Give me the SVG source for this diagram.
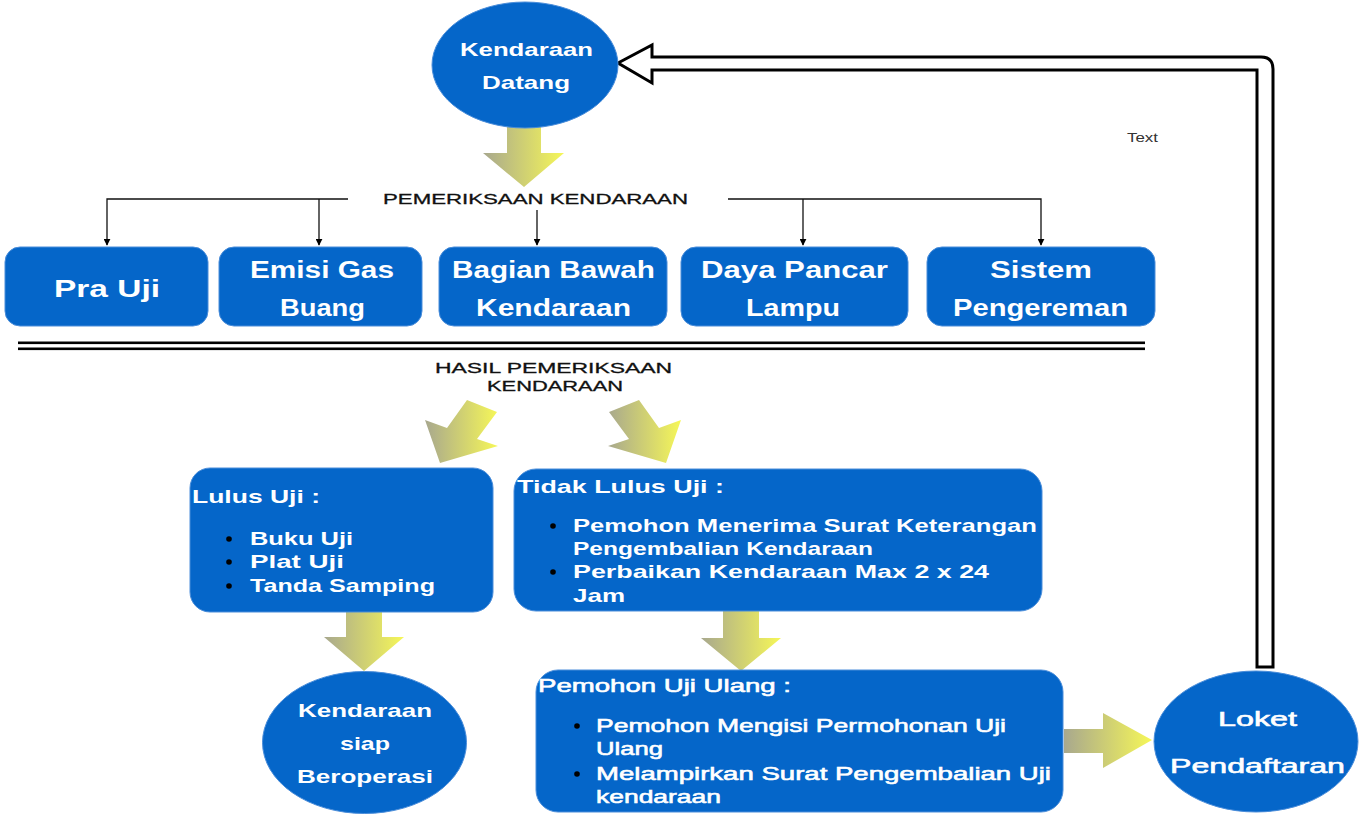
<svg xmlns="http://www.w3.org/2000/svg" width="1360" height="827" viewBox="0 0 1360 827">
<defs>
<linearGradient id="yg" x1="0" y1="0" x2="1" y2="0">
<stop offset="0" stop-color="#A8A88E"/>
<stop offset="1" stop-color="#F6F758"/>
</linearGradient>
<marker id="ah" viewBox="0 0 10 10" refX="9" refY="5" markerWidth="7" markerHeight="7" orient="auto" markerUnits="userSpaceOnUse">
<path d="M0,0 L10,5 L0,10 Z" fill="#000"/>
</marker>
<style>
.blue{fill:#0566C9;stroke:#4A8DDA;stroke-width:1}
.wt{fill:#fff;font-family:"Liberation Sans",Arial,sans-serif;font-weight:bold}
.wn{fill:#fff;stroke:#fff;stroke-width:0.6;font-family:"Liberation Sans",Arial,sans-serif;font-weight:normal}
.bk{fill:#111;stroke:#111;stroke-width:0.3;font-family:"Liberation Sans",Arial,sans-serif;font-size:14px}
.conn{fill:none;stroke:#111;stroke-width:1.3}
.ya{fill:url(#yg)}
.dot{fill:#000}
</style>
</defs>
<rect width="1360" height="827" fill="#fff"/>

<g id="connectors">
<path class="conn" d="M348,199 H107 V245" marker-end="url(#ah)"/>
<path class="conn" d="M319,199 V245" marker-end="url(#ah)"/>
<path class="conn" d="M537,210 V245" marker-end="url(#ah)"/>
<path class="conn" d="M728,199 H1041 V245" marker-end="url(#ah)"/>
<path class="conn" d="M803,199 V245" marker-end="url(#ah)"/>
<polygon class="ya" points="507,127 541,127 541,153 564,153 524,187 483,153 507,153"/>
<polygon class="ya" points="467,400 497,412 477,439 498,446 440,463 425,420 447,428"/>
<polygon class="ya" points="639,400 609,412 629,439 608,446 666,463 681,420 659,428"/>
<polygon class="ya" points="346,611 382,611 382,637 404,637 364,671 324,637 346,637"/>
<polygon class="ya" points="723,611 759,611 759,638 781,638 741,671 701,638 723,638"/>
<polygon class="ya" points="1064,729 1103,729 1103,713 1152,740 1103,768 1103,753 1064,753"/>
<path d="M618,63 L652,45 L652,57 L1261,57 Q1273,57 1273,69 L1273,667 L1257,667 L1257,70 L652,70 L652,83 Z" fill="#fff" stroke="#000" stroke-width="3" stroke-linejoin="miter"/>
<rect x="18" y="341.5" width="1127" height="2.6" fill="#000"/>
<rect x="18" y="347.5" width="1127" height="2.6" fill="#000"/>
</g>

<g id="kendaraan-datang">
<ellipse class="blue" cx="525" cy="65" rx="93" ry="63"/>
<text class="wt" x="460" y="56" font-size="19" textLength="133" lengthAdjust="spacingAndGlyphs">Kendaraan</text>
<text class="wt" x="482" y="89" font-size="19" textLength="88" lengthAdjust="spacingAndGlyphs">Datang</text>
</g>

<g id="label-pemeriksaan">
<text class="bk" x="383" y="204" textLength="305" lengthAdjust="spacingAndGlyphs">PEMERIKSAAN KENDARAAN</text>
</g>

<g id="pra-uji">
<rect class="blue" x="5" y="247" width="203" height="79" rx="15"/>
<text class="wt" x="54" y="297" font-size="23" textLength="106" lengthAdjust="spacingAndGlyphs">Pra Uji</text>
</g>
<g id="emisi-gas-buang">
<rect class="blue" x="219" y="247" width="203" height="79" rx="15"/>
<text class="wt" x="250" y="278" font-size="23" textLength="144" lengthAdjust="spacingAndGlyphs">Emisi Gas</text>
<text class="wt" x="280" y="316" font-size="23" textLength="85" lengthAdjust="spacingAndGlyphs">Buang</text>
</g>
<g id="bagian-bawah">
<rect class="blue" x="439" y="247" width="228" height="79" rx="15"/>
<text class="wt" x="452" y="278" font-size="23" textLength="203" lengthAdjust="spacingAndGlyphs">Bagian Bawah</text>
<text class="wt" x="476" y="316" font-size="23" textLength="155" lengthAdjust="spacingAndGlyphs">Kendaraan</text>
</g>
<g id="daya-pancar">
<rect class="blue" x="681" y="247" width="227" height="79" rx="15"/>
<text class="wt" x="701" y="278" font-size="23" textLength="187" lengthAdjust="spacingAndGlyphs">Daya Pancar</text>
<text class="wt" x="746" y="316" font-size="23" textLength="94" lengthAdjust="spacingAndGlyphs">Lampu</text>
</g>
<g id="sistem-pengereman">
<rect class="blue" x="927" y="247" width="228" height="79" rx="15"/>
<text class="wt" x="990" y="278" font-size="23" textLength="102" lengthAdjust="spacingAndGlyphs">Sistem</text>
<text class="wt" x="953" y="316" font-size="23" textLength="175" lengthAdjust="spacingAndGlyphs">Pengereman</text>
</g>

<g id="label-hasil">
<text class="bk" x="435" y="373" textLength="237" lengthAdjust="spacingAndGlyphs">HASIL PEMERIKSAAN</text>
<text class="bk" x="487" y="391" textLength="136" lengthAdjust="spacingAndGlyphs">KENDARAAN</text>
</g>

<g id="lulus-uji">
<rect class="blue" x="190" y="468" width="303" height="144" rx="20"/>
<text class="wt" x="192" y="503" font-size="19" textLength="128" lengthAdjust="spacingAndGlyphs">Lulus Uji :</text>
<circle class="dot" cx="229" cy="539" r="2.8"/>
<text class="wt" x="250" y="545" font-size="19" textLength="103" lengthAdjust="spacingAndGlyphs">Buku Uji</text>
<circle class="dot" cx="229" cy="562" r="2.8"/>
<text class="wt" x="250" y="568" font-size="19" textLength="94" lengthAdjust="spacingAndGlyphs">Plat Uji</text>
<circle class="dot" cx="229" cy="586" r="2.8"/>
<text class="wt" x="250" y="592" font-size="19" textLength="185" lengthAdjust="spacingAndGlyphs">Tanda Samping</text>
</g>

<g id="tidak-lulus-uji">
<rect class="blue" x="514" y="469" width="528" height="142" rx="22"/>
<text class="wt" x="517" y="493" font-size="19" textLength="207" lengthAdjust="spacingAndGlyphs">Tidak Lulus Uji :</text>
<circle class="dot" cx="553" cy="526" r="2.8"/>
<text class="wt" x="573" y="532" font-size="19" textLength="464" lengthAdjust="spacingAndGlyphs">Pemohon Menerima Surat Keterangan</text>
<text class="wt" x="573" y="555" font-size="19" textLength="300" lengthAdjust="spacingAndGlyphs">Pengembalian Kendaraan</text>
<circle class="dot" cx="553" cy="572" r="2.8"/>
<text class="wt" x="573" y="578" font-size="19" textLength="416" lengthAdjust="spacingAndGlyphs">Perbaikan Kendaraan Max 2 x 24</text>
<text class="wt" x="573" y="602" font-size="19" textLength="52" lengthAdjust="spacingAndGlyphs">Jam</text>
</g>

<g id="kendaraan-siap">
<ellipse class="blue" cx="364.5" cy="742.5" rx="102" ry="71"/>
<text class="wt" x="298" y="717" font-size="19" textLength="134" lengthAdjust="spacingAndGlyphs">Kendaraan</text>
<text class="wt" x="340" y="750" font-size="19" textLength="50" lengthAdjust="spacingAndGlyphs">siap</text>
<text class="wt" x="297" y="783" font-size="19" textLength="136" lengthAdjust="spacingAndGlyphs">Beroperasi</text>
</g>

<g id="pemohon-uji-ulang">
<rect class="blue" x="536" y="670" width="527" height="142" rx="22"/>
<text class="wn" x="538" y="692" font-size="19" textLength="253" lengthAdjust="spacingAndGlyphs">Pemohon Uji Ulang :</text>
<circle class="dot" cx="577" cy="726" r="2.8"/>
<text class="wn" x="596" y="732" font-size="19" textLength="410" lengthAdjust="spacingAndGlyphs">Pemohon Mengisi Permohonan Uji</text>
<text class="wn" x="596" y="755" font-size="19" textLength="67" lengthAdjust="spacingAndGlyphs">Ulang</text>
<circle class="dot" cx="577" cy="774" r="2.8"/>
<text class="wn" x="596" y="780" font-size="19" textLength="455" lengthAdjust="spacingAndGlyphs">Melampirkan Surat Pengembalian Uji</text>
<text class="wn" x="596" y="803" font-size="19" textLength="125" lengthAdjust="spacingAndGlyphs">kendaraan</text>
</g>

<g id="loket-pendaftaran">
<ellipse class="blue" cx="1256" cy="741.5" rx="102" ry="70.5"/>
<text class="wn" x="1218" y="726" font-size="20" textLength="79" lengthAdjust="spacingAndGlyphs">Loket</text>
<text class="wn" x="1170" y="773" font-size="20" textLength="175" lengthAdjust="spacingAndGlyphs">Pendaftaran</text>
</g>

<g id="text-label">
<text x="1127" y="142" font-family="'Liberation Sans',Arial,sans-serif" font-size="13" fill="#333" textLength="31" lengthAdjust="spacingAndGlyphs">Text</text>
</g>
</svg>
